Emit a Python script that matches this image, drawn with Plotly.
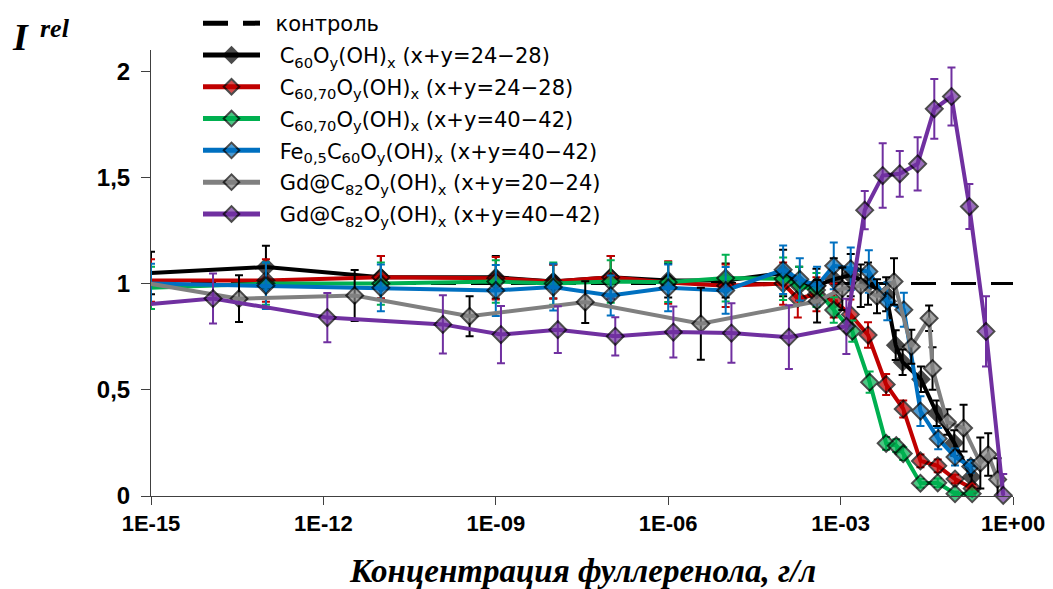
import plotly.graph_objects as go

# ---------------- data ----------------
CONTROL_X = [1e-15, 1.0]
CONTROL_Y = [1.0, 1.0]

BLACK_X = [1e-15, 1e-13, 1e-11, 1e-9, 1e-8, 1e-7, 1e-6, 1e-5, 1e-4, 1.9e-4, 3.8e-4, 7.6e-4,
           1.5e-3, 3.0e-3, 6.2e-3, 9.1e-3, 1.2e-2, 2.5e-2, 4.7e-2, 9.5e-2, 0.19]
BLACK_Y = [1.05, 1.078, 1.03, 1.03, 1.01, 1.03, 1.015, 1.015, 1.05, 1.0, 0.99, 1.02,
           1.04, 1.0, 0.95, 0.71, 0.63, 0.55, 0.39, 0.25, 0.09]
BLACK_E = [0.10, 0.10, 0.10, 0.10, 0.08, 0.10, 0.08, 0.08, 0.11, 0.08, 0.08, 0.10,
           0.10, 0.10, 0.08, 0.07, 0.06, 0.06, 0.06, 0.06, 0.05]

RED_X = [1e-15, 1e-13, 1e-11, 1e-9, 1e-8, 1e-7, 1e-6, 1e-5, 1e-4, 1.8e-4, 3.8e-4, 7.6e-4,
         1.48e-3, 3.0e-3, 6.2e-3, 1.23e-2, 2.45e-2, 4.9e-2, 9.8e-2, 0.195]
RED_Y = [1.015, 1.015, 1.03, 1.025, 1.01, 1.03, 1.005, 0.99, 1.0, 0.93, 0.95, 0.92,
         0.855, 0.758, 0.525, 0.41, 0.165, 0.142, 0.08, 0.035]
RED_E = [0.10, 0.10, 0.10, 0.10, 0.08, 0.10, 0.10, 0.10, 0.10, 0.09, 0.08, 0.08,
         0.07, 0.06, 0.05, 0.04, 0.03, 0.03, 0.02, 0.02]

GREEN_X = [1e-15, 1e-13, 1e-11, 1e-9, 1e-8, 1e-7, 1e-6, 1e-5, 1e-4, 1.9e-4, 3.8e-4, 7.6e-4,
           1.6e-3, 3.2e-3, 6.2e-3, 9.3e-3, 1.23e-2, 2.45e-2, 4.9e-2, 9.8e-2, 0.195]
GREEN_Y = [0.98, 1.0, 1.0, 1.01, 1.0, 1.01, 1.007, 1.026, 1.023, 0.99, 0.97, 0.876,
           0.776, 0.536, 0.248, 0.237, 0.2, 0.06, 0.062, 0.011, 0.011]
GREEN_E = [0.10, 0.10, 0.10, 0.10, 0.10, 0.10, 0.094, 0.11, 0.10, 0.09, 0.08, 0.06,
           0.05, 0.05, 0.03, 0.03, 0.03, 0.02, 0.02, 0.01, 0.01]

BLUE_X = [1e-15, 1e-13, 1e-11, 1e-9, 1e-8, 1e-7, 1e-6, 1e-5, 1e-4, 1.95e-4, 3.9e-4, 7.6e-4,
          1.5e-3, 3.1e-3, 6.5e-3, 1.26e-2, 2.45e-2, 5.0e-2, 9.8e-2, 0.184]
BLUE_Y = [1.0, 0.99, 0.98, 0.968, 0.984, 0.944, 0.98, 0.968, 1.065, 1.02, 0.99, 1.084,
          1.07, 1.057, 0.917, 0.877, 0.40, 0.27, 0.184, 0.139]
BLUE_E = [0.094, 0.11, 0.11, 0.12, 0.11, 0.094, 0.11, 0.11, 0.114, 0.10, 0.09, 0.11,
          0.10, 0.10, 0.09, 0.08, 0.07, 0.05, 0.04, 0.03]

GRAY_X = [3.4e-16, 3.4e-14, 3.5e-12, 3.5e-10, 3.6e-8, 3.7e-6, 3.9e-4, 1.07e-3, 2.24e-3, 4.3e-3,
          8.5e-3, 1.7e-2, 3.47e-2, 3.98e-2, 7.2e-2, 0.138, 0.27, 0.37, 0.54]
GRAY_Y = [1.02, 0.929, 0.944, 0.846, 0.913, 0.811, 0.917, 0.976, 0.99, 0.94,
          1.01, 0.703, 0.837, 0.60, 0.348, 0.32, 0.155, 0.195, 0.078]
GRAY_E = [0.10, 0.11, 0.12, 0.094, 0.098, 0.17, 0.10, 0.10, 0.10, 0.08,
          0.11, 0.08, 0.06, 0.10, 0.06, 0.11, 0.12, 0.10, 0.10]

PURPLE_X = [1.1e-16, 1.2e-14, 1.17e-12, 1.2e-10, 1.23e-9, 1.2e-8, 1.2e-7, 1.23e-6, 1.26e-5, 1.26e-4,
            1.26e-3, 2.63e-3, 5.4e-3, 1.07e-2, 2.19e-2, 4.27e-2, 8.5e-2, 0.174, 0.339, 0.676]
PURPLE_Y = [0.88, 0.93, 0.84, 0.808, 0.76, 0.783, 0.752, 0.772, 0.767, 0.748,
            0.799, 1.346, 1.509, 1.517, 1.564, 1.823, 1.881, 1.363, 0.775, 0.003]
PURPLE_E = [0.12, 0.118, 0.116, 0.137, 0.135, 0.11, 0.09, 0.12, 0.14, 0.15,
            0.13, 0.09, 0.152, 0.108, 0.125, 0.141, 0.137, 0.106, 0.165, 0.10]

NAMES = [
    "C<sub>60</sub>O<sub>y</sub>(OH)<sub>x</sub> (x+y=24\u221228)",
    "C<sub>60,70</sub>O<sub>y</sub>(OH)<sub>x</sub> (x+y=24\u221228)",
    "C<sub>60,70</sub>O<sub>y</sub>(OH)<sub>x</sub> (x+y=40\u221242)",
    "Fe<sub>0,5</sub>C<sub>60</sub>O<sub>y</sub>(OH)<sub>x</sub> (x+y=40\u221242)",
    "Gd@C<sub>82</sub>O<sub>y</sub>(OH)<sub>x</sub> (x+y=20\u221224)",
    "Gd@C<sub>82</sub>O<sub>y</sub>(OH)<sub>x</sub> (x+y=40\u221242)",
]
CONTROL_NAME = "контроль"

X_TICKS = [1e-15, 1e-12, 1e-9, 1e-6, 1e-3, 1.0]
X_TICKTEXT = ["1E-15", "1E-12", "1E-09", "1E-06", "1E-03", "1E+00"]
Y_TICKS = [0, 0.5, 1, 1.5, 2]
Y_TICKTEXT = ["0", "0,5", "1", "1,5", "2"]

# ---------------- styling ----------------
COLORS = ["#000000", "#C00000", "#00B050", "#0070C0", "#808080", "#7030A0"]
ERR_COLORS = ["#000000", "#C00000", "#00B050", "#0070C0", "#000000", "#7030A0"]
HIDE_FIRST = [True, True, True, True, False, False]

series = [
    (BLACK_X, BLACK_Y, BLACK_E),
    (RED_X, RED_Y, RED_E),
    (GREEN_X, GREEN_Y, GREEN_E),
    (BLUE_X, BLUE_Y, BLUE_E),
    (GRAY_X, GRAY_Y, GRAY_E),
    (PURPLE_X, PURPLE_Y, PURPLE_E),
]

GAP = "\u2002\u2009"  # extra space between legend sample and label

fig = go.Figure()

fig.add_trace(go.Scatter(
    x=CONTROL_X, y=CONTROL_Y, mode="lines", name="\u2002" + CONTROL_NAME,
    legendgroup="control",
    line=dict(color="#000000", width=3, dash="25px,15px"),
    hoverinfo="skip",
))

MS = 13
for i, (xs, ys, es) in enumerate(series):
    sizes = [MS] * len(xs)
    if HIDE_FIRST[i]:
        sizes[0] = 0
    fig.add_trace(go.Scatter(
        x=xs, y=ys, mode="lines+markers", name=GAP + NAMES[i],
        legendgroup="s%d" % i,
        line=dict(color=COLORS[i], width=4),
        marker=dict(symbol="diamond", size=sizes, color=COLORS[i],
                    line=dict(color="#000000", width=2)),
        error_y=dict(type="data", array=es, visible=True,
                     color=ERR_COLORS[i], thickness=2, width=4),
        cliponaxis=False,
    ))

W, H = 1053, 589
L, R, T, B = 151, 40, 50, 93
PW, PH = W - L - R, H - T - B

fig.update_layout(
    width=W, height=H,
    margin=dict(l=L, r=R, t=T, b=B, autoexpand=False),
    paper_bgcolor="white", plot_bgcolor="white",
    showlegend=True,
    legend=dict(
        xref="container", yref="container",
        x=198 / W, y=1 - 3 / H, xanchor="left", yanchor="top",
        font=dict(family="DejaVu Sans", size=21, color="#000000"),
        bgcolor="rgba(0,0,0,0)", itemwidth=57, tracegroupgap=1.5,
        itemsizing="constant",
    ),
    xaxis=dict(
        type="log", range=[-15, 0],
        tickvals=X_TICKS, ticktext=["<b>%s</b>" % t for t in X_TICKTEXT],
        ticks="outside", ticklen=8, tickwidth=1, tickcolor="#404040",
        showline=True, linecolor="#404040", linewidth=1,
        showgrid=False, zeroline=False,
        tickfont=dict(family="Liberation Sans", size=22, color="#000000"),
    ),
    yaxis=dict(
        range=[0, 2.1],
        tickvals=Y_TICKS, ticktext=["<b>%s</b>" % t for t in Y_TICKTEXT],
        ticks="outside", ticklen=9, tickwidth=1, tickcolor="#404040",
        showline=True, linecolor="#404040", linewidth=1,
        showgrid=False, zeroline=False,
        tickfont=dict(family="Liberation Sans", size=24, color="#000000"),
        ticklabelstandoff=6,
    ),
    font=dict(family="Liberation Sans"),
)

fig.add_annotation(
    xref="paper", yref="paper", x=0.5, y=(H - B - 571) / PH,
    xanchor="center", yanchor="middle",
    text="<b><i>Концентрация фуллеренола, г/л</i></b>", showarrow=False,
    font=dict(family="Liberation Serif", size=33, color="#000000"),
)
fig.add_annotation(
    xref="paper", yref="paper", x=(10 - L) / PW, y=(H - B - 37) / PH,
    xanchor="left", yanchor="middle",
    text="<b><i>I</i></b>", showarrow=False,
    font=dict(family="Liberation Serif", size=38, color="#000000"),
)
fig.add_annotation(
    xref="paper", yref="paper", x=(38 - L) / PW, y=(H - B - 29) / PH,
    xanchor="left", yanchor="middle",
    text="<b><i>rel</i></b>", showarrow=False,
    font=dict(family="Liberation Serif", size=26, color="#000000"),
)

fig.write_html("out.html")
